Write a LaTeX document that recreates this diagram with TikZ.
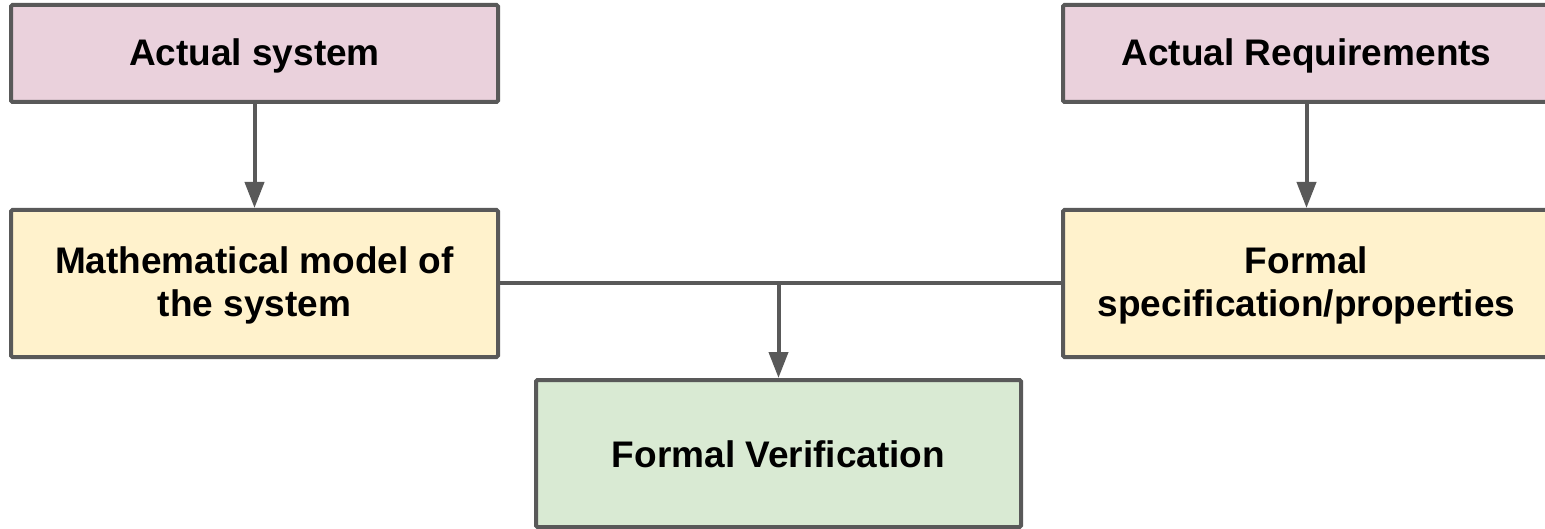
\documentclass[tikz,border=0pt]{standalone}
\usepackage{fontspec}
\setmainfont{Liberation Sans}
\usetikzlibrary{arrows.meta}
\definecolor{edgegray}{HTML}{595959}
\definecolor{pinkfill}{HTML}{EAD1DC}
\definecolor{yellowfill}{HTML}{FFF2CC}
\definecolor{greenfill}{HTML}{D9EAD3}
\begin{document}
\begin{tikzpicture}[x=1pt,y=-1pt,
  box/.style={draw=edgegray, line width=4pt, rounded corners=1.5pt,
    inner sep=0pt},
  shortbox/.style={box, minimum width=487pt, minimum height=97pt},
  tallbox/.style={box, minimum width=487pt, minimum height=147pt},
  lbl/.style={inner sep=0pt, align=center,
    font=\fontsize{37}{43}\selectfont\bfseries},
  link/.style={draw=edgegray, line width=4pt},
  arrow/.style={link, -{Triangle[length=26pt,width=19pt]}}]
  \useasboundingbox (0,0) rectangle (1545,529);

  % top row: real-world inputs
  \node[shortbox, fill=pinkfill] (sys) at (254.5,53.5) {};
  \node[shortbox, fill=pinkfill] (req) at (1306.5,53.5) {};
  \node[lbl] (syst) at ([yshift=-2pt]sys.center) {Actual system};
  \node[lbl] (reqt) at ([yshift=-2pt]req.center) {Actual Requirements};

  % middle row: formal artefacts
  \node[tallbox, fill=yellowfill] (model) at (254.5,283.5) {};
  \node[tallbox, fill=yellowfill] (spec) at (1306.5,283.5) {};
  \node[lbl] (modelt) at ([yshift=-2pt]model.center)
    {Mathematical model of\\the system};
  \node[lbl] (spect) at ([yshift=-2pt]spec.center)
    {Formal\\specification/properties};

  % bottom: verification step
  \node[tallbox, fill=greenfill, minimum width=485pt] (ver) at (778.5,453.5) {};
  \node[lbl] (vert) at ([yshift=-1pt]ver.center) {Formal Verification};

  \draw[arrow] (sys) -- (model);
  \draw[arrow] (req) -- (spec);
  \draw[link] (model.east) -- (spec.west);
  \coordinate (join) at (ver.north |- model.east);
  \draw[arrow] (join) -- (ver.north);
\end{tikzpicture}
\end{document}
